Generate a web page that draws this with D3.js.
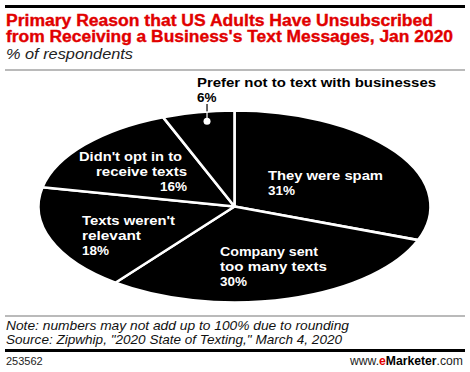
<!DOCTYPE html>
<html><head><meta charset="utf-8">
<script src="https://cdn.jsdelivr.net/npm/d3@7/dist/d3.min.js"></script>
<style>
html,body{margin:0;padding:0;background:#fff;}
svg{display:block;}
text{font-family:"Liberation Sans",Arial,sans-serif;}
</style></head>
<body>
<svg id="chart" width="470" height="372"></svg>
<script>
// ---- data ----
const categories = ["They were spam", "Company sent too many texts", "Texts weren't relevant", "Didn't opt in to receive texts", "Prefer not to text with businesses"];
const values = [31, 30, 18, 16, 6];
const labelLines = [
  ["They were spam"],
  ["Company sent", "too many texts"],
  ["Texts weren't", "relevant"],
  ["Didn't opt in to", "receive texts"],
  ["Prefer not to text with businesses"]
];
const titleLines = ["Primary Reason that US Adults Have Unsubscribed", "from Receiving a Business's Text Messages, Jan 2020"];
const subtitle = "% of respondents";
const noteLines = ["Note: numbers may not add up to 100% due to rounding", "Source: Zipwhip, \"2020 State of Texting,\" March 4, 2020"];
const chartId = "253562";

const svg = d3.select("#chart");

// header
svg.append("rect").attr("x",5).attr("y",5).attr("width",460).attr("height",3).attr("fill","#000");
const tl = [{t:titleLines[0],y:26,w:427},{t:titleLines[1],y:41.5,w:447}];
tl.forEach(d=>{
  svg.append("text").attr("x",6).attr("y",d.y).text(d.t)
    .attr("font-size",16).attr("font-weight","bold").attr("fill","#e10000")
    .attr("stroke","#e10000").attr("stroke-width",0.35)
    .attr("textLength",d.w).attr("lengthAdjust","spacingAndGlyphs");
});
svg.append("text").attr("x",6).attr("y",59).text(subtitle)
  .attr("font-size",15).attr("font-style","italic").attr("fill","#222")
  .attr("textLength",127).attr("lengthAdjust","spacingAndGlyphs");
svg.append("rect").attr("x",5).attr("y",69.5).attr("width",460).attr("height",1).attr("fill","#777");

// pie
const cx = 234.5, cy = 206.5, R = 196, RY = 96;
const k = RY / R;
const data = categories.map((c,i)=>({cat:c, v:values[i], lines:labelLines[i]}));
const pie = d3.pie().sort(null).value(d=>d.v).startAngle(0).endAngle(2*Math.PI);
const arcs = pie(data);
const arc = d3.arc().innerRadius(0).outerRadius(R);

const g = svg.append("g").attr("transform",`translate(${cx},${cy}) scale(1,${k})`);
g.selectAll("path").data(arcs).enter().append("path")
  .attr("d",arc).attr("fill","#000").attr("stroke","#fff").attr("stroke-width",2.6)
  .attr("vector-effect","non-scaling-stroke").attr("stroke-linejoin","round");

// leader for small slice
const small = arcs[4];
const la = small.startAngle + 0.58*(small.endAngle - small.startAngle);
const lr = 176;
const dotX = cx + lr*Math.sin(la);
const dotY = cy - lr*Math.cos(la)*k;
const topY = cy - Math.sqrt(Math.max(0,1 - Math.pow((dotX-cx)/R,2)))*RY;
svg.append("line").attr("x1",dotX).attr("x2",dotX).attr("y1",104).attr("y2",topY)
  .attr("stroke","#000").attr("stroke-width",1.2);
svg.append("line").attr("x1",dotX).attr("x2",dotX).attr("y1",topY).attr("y2",dotY)
  .attr("stroke","#fff").attr("stroke-width",1.2);
svg.append("circle").attr("cx",dotX).attr("cy",dotY).attr("r",3.5).attr("fill","#fff");

// labels
const fmt = d=>d.v + "%";
const labelSpec = [
  {x:268, y:179.5, anchor:"start", fill:"#fff", widths:[115], dx:[0]},
  {x:220, y:255.7, anchor:"start", fill:"#fff", widths:[98,107], dx:[0]},
  {x:82, y:225, anchor:"start", fill:"#fff", widths:[93,59], dx:[0]},
  {x:187, y:161, anchor:"end", fill:"#fff", widths:[103,91], dx:[-5]},
  {x:dotX-10, y:86.5, anchor:"start", fill:"#000", widths:[239], dx:[0]}
];
arcs.forEach((a,i)=>{
  const s = labelSpec[i];
  const t = svg.append("text").attr("x",s.x).attr("y",s.y)
    .attr("text-anchor",s.anchor).attr("fill",s.fill)
    .attr("font-size",13.5).attr("font-weight","bold");
  const lines = a.data.lines.concat([fmt(a.data)]);
  lines.forEach((ln,j)=>{
    const ts = t.append("tspan").attr("x",s.x + (s.dx[j]||0)).attr("dy", j===0?0:15.2).text(ln);
    if (s.widths[j]) ts.attr("textLength",s.widths[j]).attr("lengthAdjust","spacingAndGlyphs");
  });
});

// footer
svg.append("rect").attr("x",5).attr("y",315.5).attr("width",460).attr("height",1).attr("fill","#777");
const nw = [343, 336];
noteLines.forEach((n,i)=>{
  svg.append("text").attr("x",6).attr("y",330+i*14).text(n)
    .attr("font-size",13).attr("font-style","italic").attr("fill","#111")
    .attr("textLength",nw[i]).attr("lengthAdjust","spacingAndGlyphs");
});
svg.append("rect").attr("x",5).attr("y",349).attr("width",460).attr("height",3).attr("fill","#000");
svg.append("text").attr("x",6).attr("y",365).text(chartId).attr("font-size",11).attr("fill","#222");
const logo = svg.append("text").attr("x",463).attr("y",365).attr("text-anchor","end")
  .attr("font-size",12).attr("fill","#222").attr("textLength",113).attr("lengthAdjust","spacingAndGlyphs");
logo.append("tspan").text("www.");
logo.append("tspan").text("e").attr("fill","#e10000").attr("font-weight","bold");
logo.append("tspan").text("Marketer").attr("font-weight","bold").attr("fill","#000");
logo.append("tspan").text(".com");
</script>
</body></html>
